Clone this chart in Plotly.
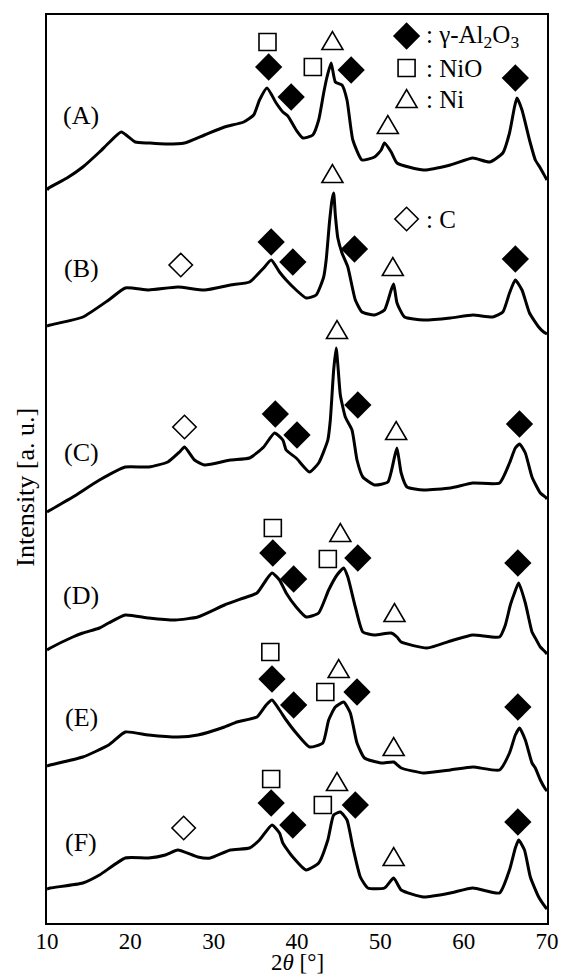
import plotly.graph_objects as go

# ---- XRD patterns, stacked (intensity in arbitrary units, offsets included) ----
TT_A = [10.0, 10.2, 12.4, 14.3, 16.3, 17.4, 18.9, 20.6, 22.2, 24.2, 26.5, 28.9, 31.3, 33.6, 34.8,
        35.5, 36.4, 37.5, 38.3, 38.9, 39.9, 40.7, 41.9, 42.6, 43.2, 43.6, 44.1, 44.6, 45.4, 46.0,
        46.7, 47.8, 49.3, 50.1, 50.5, 51.3, 52.0, 55.2, 58.4, 61.1, 63.1, 64.7, 65.5, 66.1, 66.4,
        67.0, 67.9, 68.6, 69.2, 69.8, 70.0]
INT_A = [733, 735, 745, 756, 771, 780, 791, 781, 780, 779, 780, 788, 796, 801, 808,
         823, 835, 820, 811, 807, 793, 785, 788, 803, 830, 846, 860, 841, 838, 823,
         783, 763, 766, 773, 780, 771, 760, 753, 758, 765, 761, 770, 790, 816, 825,
         813, 783, 763, 755, 746, 743]

TT_B = [10.0, 10.4, 14.3, 17.4, 19.4, 22.2, 25.7, 28.9, 32.0, 34.3, 36.0, 36.9, 37.9, 38.7, 39.9,
        41.1, 42.3, 43.2, 43.5, 43.9, 44.2, 44.4, 44.6, 44.9, 45.4, 46.1, 47.0, 47.8, 49.3, 50.5,
        51.3, 51.6, 52.0, 52.9, 55.2, 58.4, 61.1, 63.5, 64.7, 65.5, 66.2, 67.0, 67.9, 69.0, 69.6, 70.0]
INT_B = [597, 598, 606, 623, 635, 633, 636, 633, 638, 641, 655, 663, 651, 643, 633,
         625, 628, 646, 663, 701, 723, 730, 708, 685, 670, 656, 623, 611, 608, 613,
         633, 639, 620, 606, 603, 605, 608, 606, 611, 630, 643, 633, 610, 596, 591, 589]

TT_C = [10.0, 10.4, 13.1, 16.3, 19.4, 22.2, 24.5, 25.9, 26.5, 27.7, 28.9, 32.0, 34.3, 36.0, 37.3,
        38.3, 38.7, 39.9, 41.5, 42.6, 43.7, 44.0, 44.4, 44.7, 44.95, 45.2, 45.8, 46.6, 47.2, 47.9,
        49.3, 50.9, 51.7, 52.0, 52.5, 53.2, 55.2, 58.4, 61.1, 64.3, 65.5, 66.2, 66.7, 67.4, 68.2,
        69.2, 69.8, 70.0]
INT_C = [411, 413, 426, 443, 456, 456, 461, 471, 476, 463, 458, 463, 465, 476, 490,
         483, 473, 465, 451, 460, 483, 503, 553, 575, 553, 528, 506, 493, 463, 446,
         438, 441, 466, 475, 450, 436, 433, 435, 440, 440, 460, 475, 479, 470, 446,
         430, 426, 424]

TT_D = [10.0, 10.4, 13.1, 14.3, 16.3, 17.4, 19.4, 22.2, 25.4, 28.1, 31.3, 33.6, 35.2, 36.3, 37.0,
        37.9, 38.7, 39.9, 41.1, 42.6, 43.8, 44.8, 45.6, 46.1, 47.0, 47.9, 49.3, 51.3, 52.0, 52.5,
        55.6, 58.8, 61.1, 64.3, 65.0, 65.6, 66.1, 66.6, 67.4, 68.2, 68.6, 69.2, 69.8, 70.0]
INT_D = [273, 275, 286, 290, 295, 300, 308, 305, 303, 306, 318, 325, 330, 343, 350,
         343, 330, 316, 306, 310, 333, 348, 355, 346, 316, 291, 288, 290, 286, 281,
         275, 283, 288, 286, 298, 318, 330, 340, 320, 291, 285, 276, 271, 269]

TT_E = [10.0, 10.4, 14.3, 17.4, 19.4, 22.2, 25.7, 28.1, 31.3, 32.8, 35.2, 36.3, 37.0, 37.9, 38.7,
        39.9, 41.5, 43.1, 43.8, 44.6, 45.6, 46.4, 47.2, 48.1, 50.1, 51.6, 52.5, 55.2, 58.4, 61.1,
        64.3, 65.5, 66.2, 66.7, 67.4, 68.2, 68.6, 69.2, 69.8, 70.0]
INT_E = [157, 158, 166, 178, 191, 188, 186, 188, 196, 201, 206, 218, 223, 213, 203,
         190, 176, 180, 203, 216, 221, 210, 180, 165, 160, 161, 155, 150, 153, 156,
         153, 170, 188, 195, 183, 160, 155, 143, 134, 132]

TT_F = [10.0, 10.4, 14.3, 16.3, 19.4, 22.2, 24.2, 25.7, 28.1, 29.6, 32.0, 34.3, 35.5, 37.0, 37.9,
        38.3, 39.5, 41.1, 42.6, 43.7, 44.4, 45.2, 46.0, 46.7, 47.6, 48.5, 50.5, 51.6, 52.5, 55.2,
        58.4, 61.1, 64.3, 65.5, 66.2, 66.6, 67.3, 68.0, 69.0, 69.8, 70.0]
INT_F = [34, 35, 40, 48, 65, 65, 68, 73, 66, 65, 73, 75, 83, 98, 90,
         80, 66, 53, 60, 83, 108, 111, 103, 76, 46, 35, 35, 45, 33, 26,
         30, 35, 30, 53, 75, 83, 73, 46, 26, 16, 14]

PATTERNS = [(TT_A, INT_A), (TT_B, INT_B), (TT_C, INT_C), (TT_D, INT_D), (TT_E, INT_E), (TT_F, INT_F)]

# ---- sample labels ----
SAMPLE_NAMES = ["(A)", "(B)", "(C)", "(D)", "(E)", "(F)"]
SAMPLE_LABEL_TT = 14.1
SAMPLE_LABEL_Y = [808, 655, 471, 328, 206, 81]

# ---- phase markers (2theta, height) ----
AL2O3_TT = [36.6, 39.3, 46.5, 66.2, 36.9, 39.5, 46.9, 66.2, 37.4, 40.0, 47.3, 66.7,
            37.1, 39.6, 47.3, 66.5, 37.0, 39.6, 47.2, 66.5, 36.9, 39.5, 47.0, 66.5]
AL2O3_Y = [856, 826, 853, 845, 681, 661, 674, 664, 509, 488, 518, 499,
           370, 344, 365, 360, 244, 218, 231, 216, 120, 98, 118, 101]
NIO_TT = [36.46, 41.9, 37.1, 43.7, 36.8, 43.4, 36.9, 43.1]
NIO_Y = [881, 856, 395, 364, 271, 231, 144, 118]
NI_TT = [44.25, 50.9, 44.25, 51.5, 44.8, 51.9, 45.2, 51.7, 45.0, 51.6, 44.8, 51.6]
NI_Y = [882, 798, 749, 656, 593, 492, 390, 310, 254, 176, 141, 66]
C_TT = [26.05, 26.5, 26.4]
C_Y = [658, 496, 95]

# ---- key ----
KEY_TT = 53.15
KEY_TEXT_TT = 55.2
KEY_Y = {"Al2O3": 887, "NiO": 855, "Ni": 824, "C": 704}
KEY_LABELS = {"Al2O3": ": γ-Al<sub>2</sub>O<sub>3</sub>", "NiO": ": NiO", "Ni": ": Ni", "C": ": C"}

X_TICKS = [10, 20, 30, 40, 50, 60, 70]

SERIF = "Liberation Serif, Times New Roman, serif"

fig = go.Figure()

for tt, inten in PATTERNS:
    fig.add_trace(go.Scatter(x=tt, y=inten, mode="lines",
                             line=dict(color="black", width=3, shape="spline", smoothing=0.5),
                             showlegend=False, hoverinfo="skip"))

# filled diamonds: gamma-Al2O3
fig.add_trace(go.Scatter(x=AL2O3_TT + [KEY_TT], y=AL2O3_Y + [KEY_Y["Al2O3"]], mode="markers",
                         marker=dict(symbol="diamond", size=21, color="black",
                                     line=dict(width=0)),
                         showlegend=False, hoverinfo="skip"))
# open squares: NiO
fig.add_trace(go.Scatter(x=NIO_TT + [KEY_TT], y=NIO_Y + [KEY_Y["NiO"]], mode="markers",
                         marker=dict(symbol="square-open", size=17, color="black",
                                     line=dict(width=1.6, color="black")),
                         showlegend=False, hoverinfo="skip"))
# open diamonds: C
fig.add_trace(go.Scatter(x=C_TT + [KEY_TT], y=C_Y + [KEY_Y["C"]], mode="markers",
                         marker=dict(symbol="diamond-open", size=18, color="black",
                                     line=dict(width=1.6, color="black")),
                         showlegend=False, hoverinfo="skip"))

# open triangles: Ni (drawn as pixel-sized shapes anchored on the data axes)
TRI_PATH = "M -10.5,-8.5 L 10.5,-8.5 L 0,9.5 Z"
for tt, yy in zip(NI_TT + [KEY_TT], NI_Y + [KEY_Y["Ni"]]):
    fig.add_shape(type="path", xref="x", yref="y", xsizemode="pixel", ysizemode="pixel",
                  xanchor=tt, yanchor=yy, path=TRI_PATH,
                  line=dict(color="black", width=1.6), fillcolor="white")

for name, yy in zip(SAMPLE_NAMES, SAMPLE_LABEL_Y):
    fig.add_annotation(x=SAMPLE_LABEL_TT, y=yy, xref="x", yref="y", text=name,
                       showarrow=False, font=dict(family=SERIF, size=26, color="black"))

for key, yy in KEY_Y.items():
    fig.add_annotation(x=KEY_TEXT_TT, y=yy, xref="x", yref="y", text=KEY_LABELS[key],
                       showarrow=False, xanchor="left",
                       font=dict(family=SERIF, size=25, color="black"))

fig.add_annotation(x=-0.043, y=0.48, xref="paper", yref="paper", text="Intensity [a. u.]",
                   textangle=-90, showarrow=False, xanchor="center", yanchor="middle",
                   font=dict(family=SERIF, size=26, color="black"))
fig.add_annotation(x=0.5, y=-0.0595, xref="paper", yref="paper", text="2<i>θ</i> [°]",
                   showarrow=False, xanchor="center", yanchor="bottom",
                   font=dict(family=SERIF, size=23, color="black"))

fig.update_xaxes(range=[10, 70], tickvals=X_TICKS, ticks="", ticklen=0, ticklabelstandoff=-4,
                 showgrid=False, zeroline=False, showline=True, linecolor="black",
                 linewidth=2, mirror=True,
                 tickfont=dict(family=SERIF, size=23, color="black"))
fig.update_yaxes(range=[0, 908], showticklabels=False, ticks="", showgrid=False,
                 zeroline=False, showline=True, linecolor="black", linewidth=2, mirror=True)

fig.update_layout(width=571, height=978, margin=dict(l=47, r=16, t=15, b=55),
                  paper_bgcolor="white", plot_bgcolor="white")

fig.write_html("out.html")
